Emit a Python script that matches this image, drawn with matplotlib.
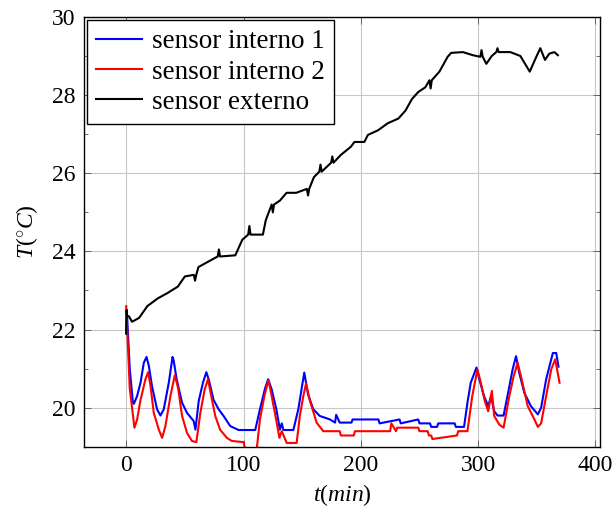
import matplotlib
matplotlib.use("Agg")
import matplotlib.pyplot as plt
from matplotlib.ticker import MultipleLocator

plt.rcParams['font.family'] = ['Liberation Serif', 'DejaVu Serif']
plt.rcParams['mathtext.fontset'] = 'custom'
plt.rcParams['mathtext.rm'] = 'Liberation Serif'
plt.rcParams['mathtext.it'] = 'Liberation Serif:italic'

# sensor interno 1 (azul)
t_int1 = [0, 0.5, 3, 5.7, 6.5, 9.3, 12.2, 15, 17.3, 19.3, 22, 26.3, 29.2, 32, 36.3, 39.5, 40.5, 43,
          47.6, 51.8, 57.5, 59, 61.8, 65.4, 68.3, 70.3, 74.5, 78.8, 83, 88.7, 95.8, 110, 114,
          118.4, 121, 124, 128, 131, 132.6, 134, 142.5, 146.7, 149.6, 151.8, 155, 159.5, 165,
          173.7, 178, 179, 182, 192, 193, 200, 215, 216, 233, 234, 249, 250, 259, 260, 265, 266,
          280, 281, 288, 290.9, 293.7, 298.6, 301, 305, 308.6, 311, 313.7, 316.6, 321.7, 325,
          329.4, 332.3, 335, 339.4, 345, 350.9, 353.7, 358, 363.7, 366.6, 368.5]
T_int1 = [21.9, 22.5, 21.0, 20.13, 20.1, 20.3, 20.64, 21.15, 21.3, 21.07, 20.55, 19.96, 19.8, 19.96,
          20.64, 21.3, 21.2, 20.73, 20.13, 19.87, 19.66, 19.44, 20.17, 20.64, 20.91, 20.73, 20.2,
          19.96, 19.79, 19.53, 19.43, 19.43, 19.96, 20.5, 20.73, 20.47, 19.96, 19.44, 19.6, 19.43,
          19.43, 19.96, 20.5, 20.9, 20.34, 19.96, 19.79, 19.7, 19.62, 19.82, 19.62, 19.62, 19.7,
          19.7, 19.7, 19.6, 19.7, 19.6, 19.7, 19.6, 19.6, 19.51, 19.51, 19.6, 19.6, 19.51, 19.51,
          20.13, 20.64, 21.03, 20.73, 20.3, 20.04, 20.3, 19.91, 19.8, 19.8, 20.3, 20.98, 21.32,
          20.9, 20.38, 20.04, 19.83, 20.0, 20.73, 21.4, 21.4, 21.05]

# sensor interno 2 (vermelho)
t_int2 = [0, 3, 7, 9.3, 12.2, 16.4, 18.7, 20.7, 23.5, 27.8, 30.6, 33.4, 37.7, 41.4, 44.2, 47.6,
          51.8, 56, 59.8, 63.2, 66.9, 69.7, 72.5, 75.9, 80, 85.8, 90, 100, 101.4, 111.3, 114,
          117.8, 121.2, 124, 127.8, 130.6, 132.6, 136.8, 145.3, 148, 151, 153.3, 156.7, 162.3,
          168, 182, 183, 194, 195, 225, 226, 230, 231, 249, 250, 257, 258, 260, 261, 282, 283,
          290.9, 295, 299.4, 302.3, 305.7, 308.6, 311.7, 313.7, 318, 321.7, 326.6, 330.3, 333.7,
          337.1, 342.3, 348, 350.9, 353.7, 358, 362.3, 365.7, 369.4]
T_int2 = [22.6, 20.5, 19.49, 19.7, 20.2, 20.73, 20.91, 20.56, 19.87, 19.44, 19.23, 19.53, 20.3,
          20.83, 20.51, 19.79, 19.36, 19.15, 19.12, 19.87, 20.47, 20.73, 20.3, 19.79, 19.44,
          19.23, 19.15, 19.12, 18.95, 18.95, 19.7, 20.3, 20.71, 20.3, 19.7, 19.23, 19.4, 19.1,
          19.1, 19.79, 20.3, 20.62, 20.17, 19.62, 19.4, 19.4, 19.29, 19.29, 19.4, 19.4, 19.6,
          19.4, 19.49, 19.49, 19.4, 19.4, 19.29, 19.29, 19.2, 19.29, 19.4, 19.4, 20.3, 20.98,
          20.64, 20.17, 19.91, 20.43, 19.79, 19.57, 19.49, 20.3, 20.81, 21.15, 20.73, 20.04,
          19.7, 19.51, 19.6, 20.3, 20.98, 21.24, 20.64]

# sensor externo (preto)
t_ext = [0, 0.3, 0.8, 2.3, 5, 11, 18, 27, 35.5, 44, 50, 57.7, 58.7, 59.7, 61.6, 70, 78, 79, 80,
         93, 99, 104, 105, 106, 116.5, 119, 124, 125, 126, 131, 136.7, 145, 154, 155,
         156, 160, 164.6, 165.6, 166.6, 174.7, 175.7, 176.7, 183, 191.6, 194.5, 203, 206,
         214.7, 223, 232, 238, 243.6, 249, 255, 258.5, 259.5, 260.5, 267, 274, 277, 287, 295.6,
         301.9, 302.9, 303.9, 307, 311.6, 315.5, 316.5, 317.5, 327.5, 336, 339, 344, 349, 353, 357,
         360.7, 365, 368]
T_ext = [21.9, 22.5, 22.34, 22.34, 22.2, 22.3, 22.6, 22.8, 22.94, 23.1, 23.36, 23.4, 23.25,
         23.4, 23.6, 23.74, 23.87, 24.05, 23.87, 23.9, 24.3, 24.43, 24.65, 24.43, 24.43, 24.8,
         25.2, 25.0, 25.2, 25.3, 25.5, 25.5, 25.6, 25.43, 25.6, 25.9, 26.04, 26.22, 26.04,
         26.27, 26.43, 26.27, 26.47, 26.68, 26.8, 26.8, 26.98, 27.1, 27.28, 27.4, 27.6, 27.9,
         28.08, 28.2, 28.38, 28.17, 28.38, 28.6, 28.98, 29.08, 29.1, 29.02, 28.98, 29.15, 28.98,
         28.8, 29.0, 29.1, 29.2, 29.1, 29.1, 29.0, 28.85, 28.6, 28.94, 29.2, 28.9, 29.06, 29.1,
         29.02]

fig = plt.figure(figsize=(6.13, 5.13), dpi=100)
ax = fig.add_axes([0.137, 0.129, 0.842, 0.838])

ax.plot(t_int1, T_int1, color='#0000ff', linewidth=1.5, label='sensor interno 1')
ax.plot(t_int2, T_int2, color='#ff0000', linewidth=1.5, label='sensor interno 2')
ax.plot(t_ext, T_ext, color='black', linewidth=1.5, label='sensor externo')

ax.set_xlim(-36, 404)
ax.set_ylim(19, 30)
ax.xaxis.set_major_locator(MultipleLocator(100))
ax.yaxis.set_major_locator(MultipleLocator(2))
ax.yaxis.set_minor_locator(MultipleLocator(1))
ax.grid(True, which='major', color='#c8c8c8', linewidth=0.8)
ax.set_axisbelow(True)
ax.tick_params(which='both', direction='in', top=True, right=True, labelsize=17)
ax.tick_params(which='major', length=5, width=0.6, color='#555555', pad=6)
ax.tick_params(which='minor', length=3, width=0.6, color='#555555')
for s in ax.spines.values():
    s.set_linewidth(1.0)

ax.set_xlabel(r'$t(min)$', fontsize=17, labelpad=4)
ax.set_ylabel(r'$T(^{\circ}C)$', fontsize=17, labelpad=9)

leg = ax.legend(loc='upper left', fontsize=19.5, frameon=True, fancybox=False, framealpha=1,
                edgecolor='black', handlelength=1.7, handletextpad=0.35, borderpad=0.35,
                labelspacing=0.2, borderaxespad=0.1)
leg.get_frame().set_linewidth(1.0)

fig.savefig('out.png', dpi=100)
